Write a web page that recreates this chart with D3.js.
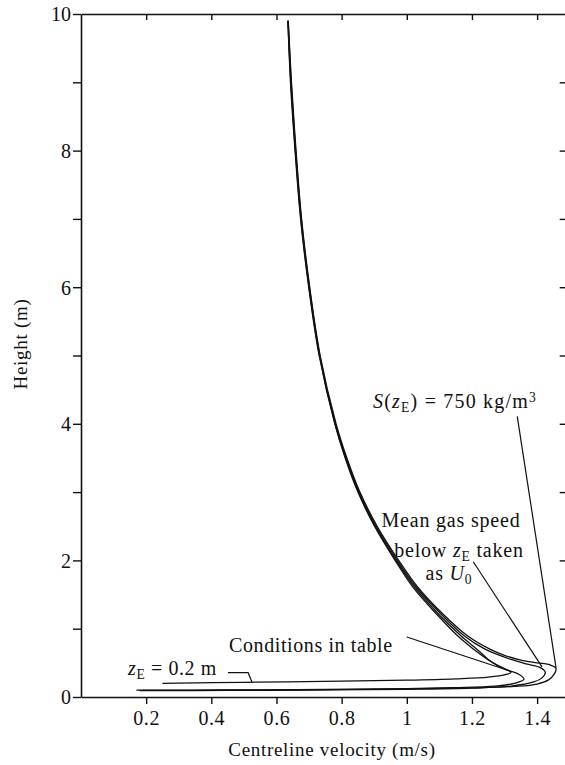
<!DOCTYPE html>
<html>
<head>
<meta charset="utf-8">
<script src="https://cdn.jsdelivr.net/npm/d3@7"></script>
<style>
  html, body { margin: 0; padding: 0; background: #fff; }
  svg { display: block; }
  text { font-family: "Liberation Serif", "Times New Roman", serif; fill: #111; }
</style>
</head>
<body>
<svg id="chart" width="565" height="765"></svg>
<script>
// Centreline velocity profiles, [velocity (m/s), height (m)]
const conditionsInTable = [
  [0.17,0.10],[0.45,0.103],[0.75,0.11],[1.0,0.122],[1.15,0.137],[1.27,0.16],[1.33,0.20],
  [1.36,0.26],[1.345,0.33],[1.31,0.395],[1.28,0.46],[1.25,0.55],[1.215,0.70],[1.165,0.90],
  [1.10,1.20],[1.025,1.60],[0.967,2.0],[0.903,2.5],[0.852,3.0],[0.812,3.5],[0.780,4.0],
  [0.732,5.0],[0.700,6.0],[0.675,7.0],[0.658,8.0],[0.644,9.0],[0.635,9.9]
];
const zE02 = [
  [0.25,0.20],[0.5,0.215],[0.8,0.232],[1.0,0.246],[1.15,0.265],[1.25,0.29],[1.305,0.33],
  [1.32,0.36],[1.30,0.41],[1.275,0.47],[1.245,0.56],[1.205,0.70],[1.155,0.90],
  [1.094,1.20],[1.02,1.60],[0.964,2.0],[0.901,2.5],[0.850,3.0],[0.811,3.5],[0.779,4.0],
  [0.731,5.0],[0.699,6.0],[0.674,7.0],[0.657,8.0],[0.643,9.0],[0.635,9.9]
];
const meanGasSpeed = [
  [0.18,0.092],[0.45,0.096],[0.75,0.103],[1.0,0.113],[1.2,0.13],[1.32,0.16],[1.39,0.22],
  [1.415,0.28],[1.425,0.36],[1.41,0.43],[1.37,0.48],[1.32,0.55],[1.24,0.70],[1.175,0.90],
  [1.108,1.20],[1.03,1.60],[0.971,2.0],[0.906,2.5],[0.854,3.0],[0.814,3.5],[0.781,4.0],
  [0.733,5.0],[0.701,6.0],[0.676,7.0],[0.659,8.0],[0.645,9.0],[0.636,9.9]
];
const density750 = [
  [0.19,0.096],[0.45,0.10],[0.75,0.107],[1.0,0.118],[1.2,0.133],[1.33,0.155],[1.40,0.19],
  [1.435,0.25],[1.452,0.33],[1.458,0.42],[1.44,0.47],[1.40,0.50],[1.35,0.54],[1.30,0.61],
  [1.255,0.70],[1.185,0.90],[1.114,1.20],[1.035,1.60],[0.975,2.0],[0.909,2.5],[0.856,3.0],
  [0.816,3.5],[0.783,4.0],[0.734,5.0],[0.702,6.0],[0.677,7.0],[0.660,8.0],[0.646,9.0],[0.636,9.9]
];

const xTickValues = [0.2, 0.4, 0.6, 0.8, 1, 1.2, 1.4];
const xTickLabels = ["0.2", "0.4", "0.6", "0.8", "1", "1.2", "1.4"];
const yTickValues = [0, 1, 2, 3, 4, 5, 6, 7, 8, 9, 10];
const yTickLabels = ["0", "", "2", "", "4", "", "6", "", "8", "", "10"];

// Leader lines, in data units
const leaderConditions = [[1.0, 0.878], [1.307, 0.395]];
const leaderZE = [[0.451, 0.356], [0.513, 0.356], [0.525, 0.215]];
const leaderMean = [[1.204, 1.98], [1.415, 0.44]];
const leaderDensity = [[1.339, 4.11], [1.458, 0.43]];

const svg = d3.select("#chart");
const x = d3.scaleLinear().domain([0, 1.5]).range([81, 569.7]);
const y = d3.scaleLinear().domain([0, 10]).range([697, 14]);

// Frame: left & bottom with outward ticks, top & right with inward ticks
const axLeft = svg.append("g").attr("transform", `translate(${x(0)},0)`)
  .call(d3.axisLeft(y).tickValues(yTickValues).tickSize(8).tickSizeOuter(0)
    .tickFormat((d, i) => yTickLabels[i]));
const axBottom = svg.append("g").attr("transform", `translate(0,${y(0)})`)
  .call(d3.axisBottom(x).tickValues(xTickValues).tickSize(7).tickSizeOuter(0)
    .tickFormat((d, i) => xTickLabels[i]));
const axTop = svg.append("g").attr("transform", `translate(0,${y(10)})`)
  .call(d3.axisTop(x).tickValues(xTickValues).tickSize(-6).tickSizeOuter(0).tickFormat(""));
const axRight = svg.append("g").attr("transform", `translate(${x(1.5)},0)`)
  .call(d3.axisRight(y).tickValues(yTickValues.slice(1, 10)).tickSize(-10).tickSizeOuter(0).tickFormat(""));

[axLeft, axBottom, axTop, axRight].forEach(g => {
  g.selectAll("path.domain").attr("stroke", "#111").attr("stroke-width", 1.6);
  g.selectAll(".tick line").attr("stroke", "#111").attr("stroke-width", 1.4);
});
axLeft.selectAll(".tick text")
  .attr("font-family", "Liberation Serif").attr("font-size", 20).attr("x", -10).attr("dy", "0.34em");
axBottom.selectAll(".tick text")
  .attr("font-family", "Liberation Serif").attr("font-size", 20).attr("y", 10).attr("dy", "0.9em")
  .attr("letter-spacing", 0.6);

// Profiles
const line = d3.line().x(d => x(d[0])).y(d => y(d[1])).curve(d3.curveCatmullRom.alpha(0.5));
[conditionsInTable, zE02, meanGasSpeed, density750].forEach(s => {
  svg.append("path").datum(s).attr("d", line)
    .attr("fill", "none").attr("stroke", "#111").attr("stroke-width", 1.3);
});

// Leaders
const straight = d3.line().x(d => x(d[0])).y(d => y(d[1]));
[leaderConditions, leaderZE, leaderMean, leaderDensity].forEach(s => {
  svg.append("path").datum(s).attr("d", straight)
    .attr("fill", "none").attr("stroke", "#111").attr("stroke-width", 1.2);
});

// Annotations
const fs = 20;
function addText(xp, yp, anchor, parts, ls) {
  const t = svg.append("text").attr("x", xp).attr("y", yp).attr("text-anchor", anchor)
    .attr("font-size", fs).attr("letter-spacing", ls);
  parts.forEach(p => {
    const ts = t.append("tspan").text(p.t);
    if (p.i) ts.attr("font-style", "italic");
    if (p.sub) ts.attr("font-size", fs * 0.68).attr("baseline-shift", "-30%");
    if (p.sup) ts.attr("font-size", fs * 0.68).attr("baseline-shift", "45%");
  });
  return t;
}
addText(373, 408, "start", [
  {t: "S", i: true}, {t: "("}, {t: "z", i: true}, {t: "E", sub: true}, {t: ") = 750 kg/m"}, {t: "3", sup: true}
], 1.2);
addText(451, 527, "middle", [{t: "Mean gas speed"}], 0.8);
addText(459, 557, "middle", [{t: "below "}, {t: "z", i: true}, {t: "E", sub: true}, {t: " taken"}], 0.8);
addText(449, 580, "middle", [{t: "as "}, {t: "U", i: true}, {t: "0", sub: true}], 0.8);
addText(229, 652, "start", [{t: "Conditions in table"}], 0.6);
addText(128, 675, "start", [{t: "z", i: true}, {t: "E", sub: true}, {t: " = 0.2 m"}], 0.6);

// Axis titles
svg.append("text").attr("x", 332).attr("y", 756).attr("text-anchor", "middle")
  .attr("font-size", 19).attr("letter-spacing", 0.7).text("Centreline velocity (m/s)");
svg.append("text").attr("transform", "translate(27,344) rotate(-90)").attr("text-anchor", "middle")
  .attr("font-size", 19).attr("letter-spacing", 0.7).text("Height (m)");
</script>
</body>
</html>
